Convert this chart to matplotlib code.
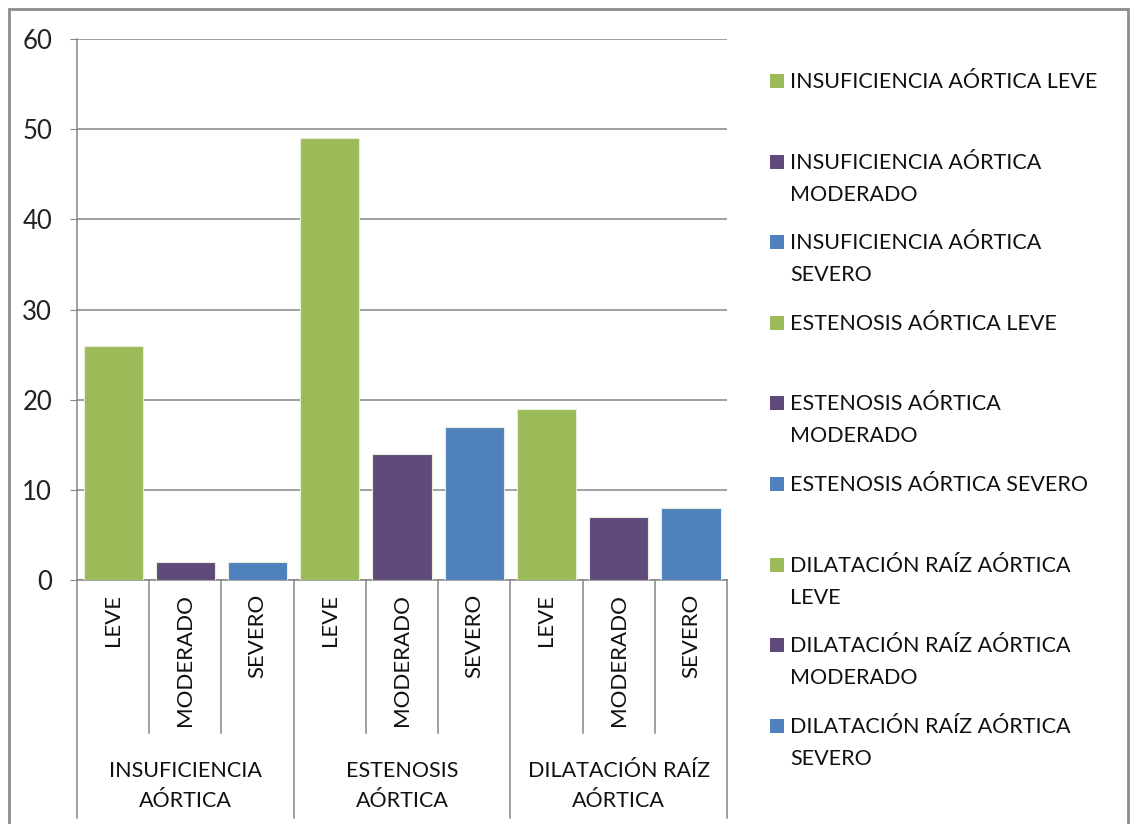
import numpy as np
import matplotlib
matplotlib.use("Agg")
import matplotlib.pyplot as plt
from matplotlib.patches import Rectangle
import matplotlib.transforms as mtransforms

# --------------------------------------------------
# Data
# --------------------------------------------------
groups = ["INSUFICIENCIA\nAÓRTICA", "ESTENOSIS\nAÓRTICA", "DILATACIÓN RAÍZ\nAÓRTICA"]
grades = ["LEVE", "MODERADO", "SEVERO"]
values = [26, 2, 2, 49, 14, 17, 19, 7, 8]
legend_labels = [
    "INSUFICIENCIA AÓRTICA LEVE",
    "INSUFICIENCIA AÓRTICA\nMODERADO",
    "INSUFICIENCIA AÓRTICA\nSEVERO",
    "ESTENOSIS AÓRTICA LEVE",
    "ESTENOSIS AÓRTICA\nMODERADO",
    "ESTENOSIS AÓRTICA SEVERO",
    "DILATACIÓN RAÍZ AÓRTICA\nLEVE",
    "DILATACIÓN RAÍZ AÓRTICA\nMODERADO",
    "DILATACIÓN RAÍZ AÓRTICA\nSEVERO",
]
grade_colors = ["#9BBB59", "#604A7B", "#4F81BD"]

plt.rcParams["font.family"] = ["Lato", "DejaVu Sans"]
FS = 15.5
GRID = "#868686"

W, H = 1130, 824
fig = plt.figure(figsize=(W / 100, H / 100), dpi=100)

# outer chart frame
fig.patches.append(Rectangle((9 / W, -0.05), 1119 / W, 1 - 9 / H + 0.05,
                             transform=fig.transFigure, fill=False,
                             edgecolor="#8c8c8c", linewidth=2))

ax = fig.add_axes([77 / W, 1 - 580 / H, 650 / W, 541 / H])

n = len(values)
x = np.arange(n)
colors = [grade_colors[i % 3] for i in range(n)]
ax.bar(x, values, width=0.82, color=colors, edgecolor="#e8eedc", linewidth=0.8, zorder=3)

ax.set_xlim(-0.5, n - 0.5)
ax.set_ylim(0, 60)
ax.set_yticks(np.arange(0, 61, 10))
ax.yaxis.grid(True, color=GRID, linewidth=1.1)
ax.set_axisbelow(True)
for s in ["top", "right"]:
    ax.spines[s].set_visible(False)
ax.spines["left"].set_color(GRID)
ax.spines["bottom"].set_color(GRID)
ax.spines["left"].set_linewidth(1.1)
ax.spines["bottom"].set_linewidth(1.1)
ax.tick_params(axis="y", length=5, color=GRID, labelsize=18.5, pad=13)
ax.tick_params(axis="x", bottom=False, labelbottom=False)
for t in ax.get_yticklabels():
    t.set_color("#222222")

# --------------------------------------------------
# Multi-level category axis
# --------------------------------------------------
trans = mtransforms.blended_transform_factory(ax.transData, ax.transAxes)
inner_bottom = -(733 - 580) / 541
outer_bottom = -(818 - 580) / 541
for b in np.arange(-0.5, n, 1.0):
    is_group = abs((b + 0.5) % 3) < 1e-9
    ax.plot([b, b], [0, outer_bottom if is_group else inner_bottom],
            transform=trans, color=GRID, linewidth=1.1, clip_on=False)

for i in range(n):
    ax.text(x[i], -(594 - 580) / 541, grades[i % 3], transform=trans,
            rotation=90, ha="center", va="top", fontsize=FS + 0.5, color="#111111")

for g, name in enumerate(groups):
    ax.text(3 * g + 1, -(786 - 580) / 541, name, transform=trans,
            ha="center", va="center", fontsize=FS, color="#111111",
            linespacing=1.6, multialignment="center")

# --------------------------------------------------
# Legend (Excel-like, fixed slot spacing)
# --------------------------------------------------
for i, lab in enumerate(legend_labels):
    yc = 81 + 80.6 * i
    fig.patches.append(Rectangle((770 / W, 1 - (yc + 7) / H), 14 / W, 14 / H,
                                 transform=fig.transFigure,
                                 facecolor=grade_colors[i % 3], edgecolor="none"))
    fig.text(790 / W, 1 - (yc - 9) / H, lab, ha="left", va="top",
             fontsize=FS, color="#111111", linespacing=1.75)

fig.savefig("out.png", dpi=100)
